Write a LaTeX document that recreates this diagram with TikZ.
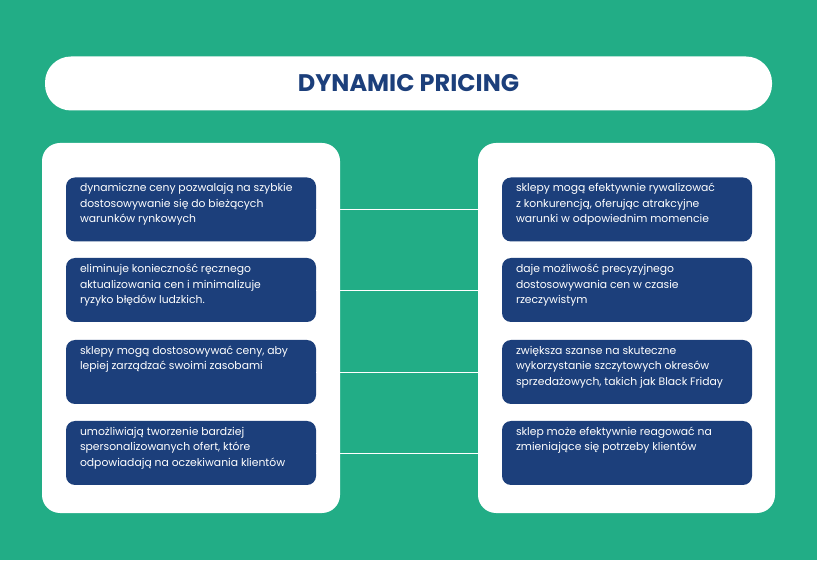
\documentclass[tikz,border=0pt]{standalone}
\usepackage{fontspec}
\setmainfont{Poppins}
\usetikzlibrary{positioning}
\definecolor{bggreen}{HTML}{22AD86}
\definecolor{darkblue}{HTML}{1C3F7B}
\tikzset{
  panel/.style={fill=white, rounded corners=18pt, draw=none},
  pointbox/.style={fill=darkblue, rounded corners=9pt, minimum width=250pt, minimum height=64pt, inner sep=0pt},
  pointtext/.style={anchor=north west, align=left, text=white, font=\fontsize{10.8}{15.5}\selectfont, inner sep=0pt},
  link/.style={draw=white, line width=0.8pt}
}
\begin{document}
\begin{tikzpicture}[x=1pt,y=1pt]
  \fill[bggreen] (0,0) rectangle (817,560);
  \useasboundingbox (0,0) rectangle (817,560);

  %% title
  \node[panel, rounded corners=26pt, minimum width=727pt, minimum height=54pt] (title) at (408.5,476.5) {};
  \node[text=darkblue, font=\bfseries\fontsize{24}{28}\selectfont] at (title) {DYNAMIC PRICING};

  %% panels
  \node[panel, minimum width=298pt, minimum height=370pt] (left) at (191,232) {};
  \node[panel, minimum width=297pt, minimum height=370pt] (right) at (626.5,232) {};

  %% left column
  \node[pointbox] (l1) at (191,350.5) {};
  \node[pointbox] (l2) at (191,270) {};
  \node[pointbox] (l3) at (191,188) {};
  \node[pointbox] (l4) at (191,107) {};
  %% right column
  \node[pointbox] (r1) at (627,350.5) {};
  \node[pointbox] (r2) at (627,270) {};
  \node[pointbox] (r3) at (627,188) {};
  \node[pointbox] (r4) at (627,107) {};

  \node[pointtext] (l1t) at ([xshift=14pt,yshift=-6pt]l1.north west) {dynamiczne ceny pozwalają na szybkie\\dostosowywanie się do bieżących\\warunków rynkowych};
  \node[pointtext] (l2t) at ([xshift=14pt,yshift=-6pt]l2.north west) {eliminuje konieczność ręcznego\\aktualizowania cen i minimalizuje\\ryzyko błędów ludzkich.};
  \node[pointtext] (l3t) at ([xshift=14pt,yshift=-6pt]l3.north west) {sklepy mogą dostosowywać ceny, aby\\lepiej zarządzać swoimi zasobami};
  \node[pointtext] (l4t) at ([xshift=14pt,yshift=-6pt]l4.north west) {umożliwiają tworzenie bardziej\\spersonalizowanych ofert, które\\odpowiadają na oczekiwania klientów};
  \node[pointtext] (r1t) at ([xshift=14pt,yshift=-6pt]r1.north west) {sklepy mogą efektywnie rywalizować\\z konkurencją, oferując atrakcyjne\\warunki w odpowiednim momencie};
  \node[pointtext] (r2t) at ([xshift=14pt,yshift=-6pt]r2.north west) {daje możliwość precyzyjnego\\dostosowywania cen w czasie\\rzeczywistym};
  \node[pointtext] (r3t) at ([xshift=14pt,yshift=-6pt]r3.north west) {zwiększa szanse na skuteczne\\wykorzystanie szczytowych okresów\\sprzedażowych, takich jak Black Friday};
  \node[pointtext] (r4t) at ([xshift=14pt,yshift=-6pt]r4.north west) {sklep może efektywnie reagować na\\zmieniające się potrzeby klientów};

  %% connectors
  \foreach \i in {1,2,3,4}
    \draw[link] (l\i.east) -- (r\i.west);
\end{tikzpicture}
\end{document}
